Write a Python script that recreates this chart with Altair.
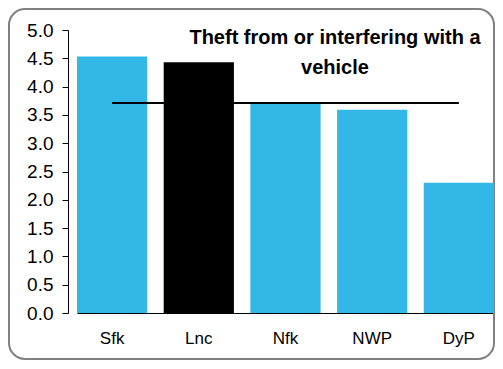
import altair as alt
import pandas as pd

areas = ["Sfk", "Lnc", "Nfk", "NWP", "DyP"]
rates = [4.53, 4.43, 3.71, 3.59, 2.30]
colors = ["#33b7e7", "#000000", "#33b7e7", "#33b7e7", "#33b7e7"]
average = 3.71
y_ticks = [0, 0.5, 1, 1.5, 2, 2.5, 3, 3.5, 4, 4.5, 5]
title_lines = ["Theft from or interfering with a", "vehicle"]

df = pd.DataFrame({"area": areas, "rate": rates, "color": colors})
avg_df = pd.DataFrame({"x1": [areas[0]], "x2": [areas[-1]], "y": [average]})

W, H = 427, 283

xscale = alt.Scale(domain=areas, paddingInner=0.19, paddingOuter=0, range=[9, 426])
yscale = alt.Scale(domain=[0, 5])

xaxis = alt.Axis(labelAngle=0, ticks=False, labelPadding=17, labelFontSize=17,
                 labelColor="black", domainColor="black", labelFont="Liberation Sans")
yaxis = alt.Axis(values=y_ticks, format=".1f",
                 grid=False, tickSize=6, tickColor="black", domainColor="black",
                 labelFontSize=19, labelColor="black", labelPadding=9,
                 labelOverlap=False, labelFont="Liberation Sans")

bars = alt.Chart(df).mark_bar().encode(
    x=alt.X("area:N", scale=xscale, sort=areas, title=None, axis=xaxis),
    y=alt.Y("rate:Q", scale=yscale, title=None, axis=yaxis),
    color=alt.Color("color:N", scale=None),
)

avg = alt.Chart(avg_df).mark_rule(color="black", strokeWidth=2).encode(
    x=alt.X("x1:N", scale=xscale, title=None, axis=xaxis),
    x2="x2:N",
    y=alt.Y("y:Q", scale=yscale, title=None, axis=yaxis),
)

title = alt.Chart(pd.DataFrame({"t": [title_lines]})).mark_text(
    fontSize=20, fontWeight="bold", font="Liberation Sans", color="black",
    lineHeight=30, baseline="middle", align="center"
).encode(text="t", x=alt.value(267), y=alt.value(8))

border = alt.Chart(pd.DataFrame({"a": [0]})).mark_rect(
    fill=None, stroke="#808080", strokeWidth=2, cornerRadius=16
).encode(x=alt.value(-59), x2=alt.value(W - 1), y=alt.value(-21), y2=alt.value(H + 46))

chart = alt.layer(border, bars, avg, title).properties(
    width=W, height=H,
    autosize=alt.AutoSizeParams(type="none"),
    padding={"left": 60, "top": 22, "right": 0, "bottom": 48},
).configure(background="white", view=alt.ViewConfig(stroke=None))

chart.save("out.html", embed_options={"renderer": "svg", "actions": False})
